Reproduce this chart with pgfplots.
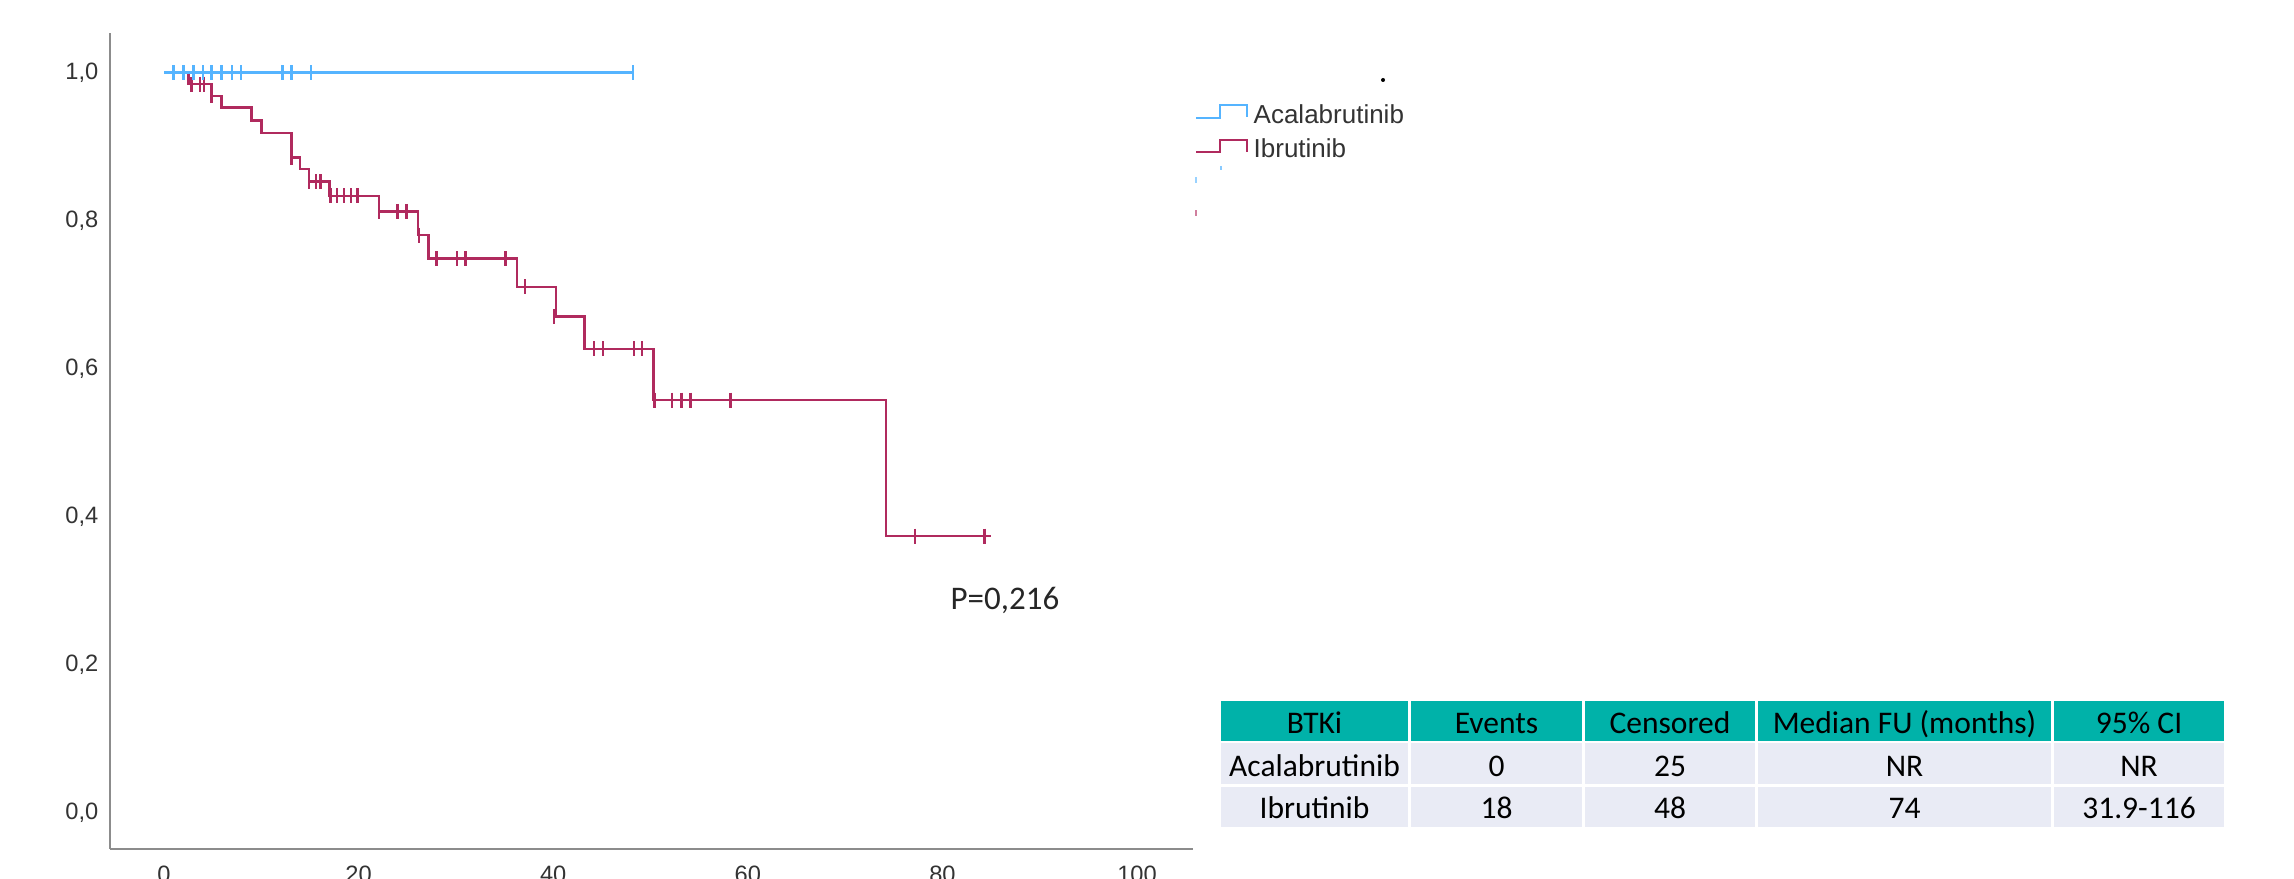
\documentclass[border=0pt]{standalone}
\usepackage{pgfplots}
\pgfplotsset{compat=1.18}
\usepackage{fontspec}
\setmainfont{Liberation Sans}
\newfontfamily\calib{Carlito}
\definecolor{acala}{RGB}{85,180,255}
\definecolor{ibru}{RGB}{176,42,94}
\definecolor{axgray}{RGB}{140,140,140}
\definecolor{hdrteal}{RGB}{0,178,169}
\definecolor{rowbg}{RGB}{233,235,245}
\begin{document}
\begin{tikzpicture}
\path[use as bounding box] (0,0) rectangle (688.2pt,-263.7pt);
\begin{axis}[
  at={(33pt,-254.7pt)}, anchor=south west,
  scale only axis, width=324.9pt, height=244.8pt,
  xmin=-5.55, xmax=105.75, ymin=-0.0486, ymax=1.054,
  axis lines=left,
  axis line style={-, draw=axgray, line width=0.8pt},
  xtick={0,20,40,60,80,100},
  ytick={0,0.2,0.4,0.6,0.8,1.0},
  major tick length=0pt,
  /pgf/number format/assume math mode=true,
  ticklabel style={font=\fontsize{7.1}{8}\selectfont, text=black!80, inner sep=0pt},
  yticklabel style={xshift=-3.3pt, /pgf/number format/.cd, fixed, fixed zerofill, precision=1, use comma},
  xticklabel style={yshift=-4.8pt},
  clip=false,
]
% Ibrutinib survival curve
\addplot[const plot, ibru, line width=0.75pt] coordinates {
 (0,1) (2.5,0.985) (4.9,0.969) (5.9,0.953) (9.0,0.936) (10.0,0.919)
 (13.1,0.886) (14.0,0.870) (14.9,0.853) (17.0,0.834) (22.1,0.813)
 (26.1,0.781) (27.2,0.749) (36.3,0.711) (40.3,0.671) (43.2,0.627)
 (50.3,0.558) (74.2,0.374) (85.0,0.374)};
\addplot[only marks, mark=|, mark size=2.25pt, ibru, mark options={line width=0.75pt}] coordinates {
 (2.8,0.985) (3.7,0.985) (4.1,0.985) (4.9,0.969) (13.1,0.886)
 (14.9,0.853) (15.6,0.853) (16.1,0.853)
 (17.1,0.834) (17.8,0.834) (18.5,0.834) (19.2,0.834) (19.9,0.834)
 (22.1,0.813) (24.0,0.813) (24.9,0.813) (26.2,0.781)
 (28.0,0.749) (30.1,0.749) (31.0,0.749) (35.1,0.749)
 (37.1,0.711) (40.1,0.671)
 (44.2,0.627) (45.1,0.627) (48.3,0.627) (49.1,0.627)
 (50.4,0.558) (52.2,0.558) (53.2,0.558) (54.1,0.558) (58.2,0.558)
 (77.2,0.374) (84.3,0.374)};
% Acalabrutinib survival curve
\addplot[const plot, acala, line width=0.9pt] coordinates {(0,1) (48.2,1)};
\addplot[only marks, mark=|, mark size=2.25pt, acala, mark options={line width=0.8pt}] coordinates {
 (1.0,1) (2.0,1) (3.0,1) (4.0,1) (4.9,1) (5.9,1) (7.0,1) (7.9,1)
 (12.2,1) (13.1,1) (15.1,1) (48.2,1)};
\end{axis}
\begin{scope}[x=0.3pt,y=-0.3pt]
% legend
\draw[acala, line width=0.6pt] (1196,118) -- (1220,118) -- (1220,105) -- (1247,105) -- (1247,117);
\draw[ibru, line width=0.6pt] (1196,152) -- (1220,152) -- (1220,140) -- (1247,140) -- (1247,152);
\node[anchor=base west, inner sep=0pt, font=\fontsize{7.8}{9}\selectfont, text=black!80] at (1253,124) {Acalabrutinib};
\node[anchor=base west, inner sep=0pt, font=\fontsize{7.8}{9}\selectfont, text=black!80] at (1253,158) {Ibrutinib};
\fill[black] (1383,80) circle (2);
\fill[acala!70] (1220,166) rectangle (1222,170);
\fill[acala!60] (1195,177) rectangle (1197,183);
\fill[ibru!60] (1195,210) rectangle (1197,216);
% p-value
\node[anchor=base west, inner sep=0pt, font=\calib\fontsize{9.9}{12}\selectfont, text=black!85] at (950,610) {P=0,216};
% table
\fill[hdrteal] (1221,701) rectangle (1408,741);
\fill[hdrteal] (1411,701) rectangle (1582,741);
\fill[hdrteal] (1585,701) rectangle (1755,741);
\fill[hdrteal] (1758,701) rectangle (2051,741);
\fill[hdrteal] (2054,701) rectangle (2224,741);
\foreach \ya/\yb in {743/784, 787/827}{
  \fill[rowbg] (1221,\ya) rectangle (1408,\yb);
  \fill[rowbg] (1411,\ya) rectangle (1582,\yb);
  \fill[rowbg] (1585,\ya) rectangle (1755,\yb);
  \fill[rowbg] (1758,\ya) rectangle (2051,\yb);
  \fill[rowbg] (2054,\ya) rectangle (2224,\yb);
}
\tikzset{tc/.style={anchor=base, inner sep=0pt, font=\calib\fontsize{9.45}{11}\selectfont, text=black}}
\node[tc] at (1314.5,734) {BTKi};
\node[tc] at (1496.5,734) {Events};
\node[tc] at (1670,734) {Censored};
\node[tc] at (1904.5,734) {Median FU (months)};
\node[tc] at (2139,734) {95\% CI};
\node[tc] at (1314.5,777) {Acalabrutinib};
\node[tc] at (1496.5,777) {0};
\node[tc] at (1670,777) {25};
\node[tc] at (1904.5,777) {NR};
\node[tc] at (2139,777) {NR};
\node[tc] at (1314.5,818) {Ibrutinib};
\node[tc] at (1496.5,818) {18};
\node[tc] at (1670,818) {48};
\node[tc] at (1904.5,818) {74};
\node[tc] at (2139,818) {31.9-116};
\end{scope}
\end{tikzpicture}
\end{document}
